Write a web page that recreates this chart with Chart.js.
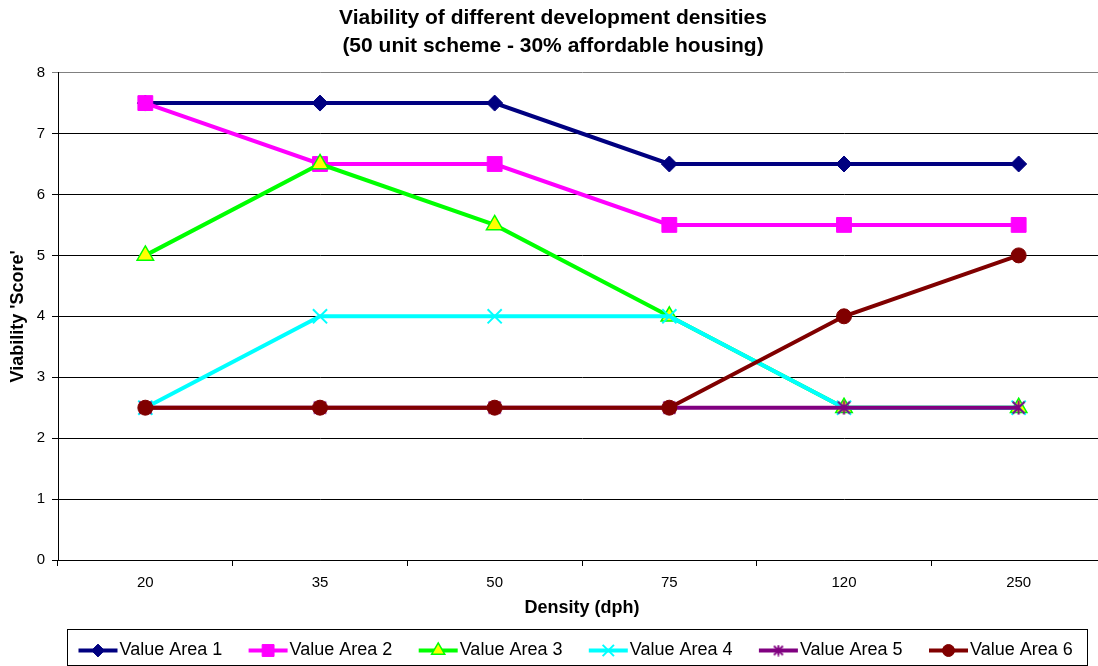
<!DOCTYPE html>
<html>
<head>
<meta charset="utf-8">
<title>Viability of different development densities</title>
<script src="https://cdn.jsdelivr.net/npm/chart.js@4/dist/chart.umd.min.js"></script>
<style>
  html, body { margin: 0; padding: 0; background: #ffffff; overflow: hidden; }
  #chart { display: block; }
</style>
</head>
<body>
<canvas id="chart" width="1106" height="666"></canvas>
<script>
// Density categories (dwellings per hectare)
const densities = ['20', '35', '50', '75', '120', '250'];

// Viability score for each value area
const valueArea1 = [7.5, 7.5, 7.5, 6.5, 6.5, 6.5];
const valueArea2 = [7.5, 6.5, 6.5, 5.5, 5.5, 5.5];
const valueArea3 = [5, 6.5, 5.5, 4, 2.5, 2.5];
const valueArea4 = [2.5, 4, 4, 4, 2.5, 2.5];
const valueArea5 = [2.5, 2.5, 2.5, 2.5, 2.5, 2.5];
const valueArea6 = [2.5, 2.5, 2.5, 2.5, 4, 5];

const seriesNames = ['Value Area 1', 'Value Area 2', 'Value Area 3', 'Value Area 4', 'Value Area 5', 'Value Area 6'];
const seriesValues = [valueArea1, valueArea2, valueArea3, valueArea4, valueArea5, valueArea6];

// Y axis range
const yMin = 0;
const yMax = 8;
const yStep = 1;

// Line and marker styling per series
const lineColors = ['#000080', '#FF00FF', '#00FF00', '#00FFFF', '#800080', '#800000'];
const markerFill = ['#000080', '#FF00FF', '#FFFF00', '#00FFFF', '#800080', '#800000'];
const markerRadius = [8, 10.5, 9.5, 10, 8, 7.5];
const markerBorder = [1, 1, 1.5, 2, 2, 1];

// Asterisk marker: an X crossed by a vertical stroke
function makeAsterisk(size, color, lw) {
  const c = document.createElement('canvas');
  c.width = size; c.height = size;
  const g = c.getContext('2d');
  g.strokeStyle = color;
  g.lineWidth = lw;
  const m = 1.5, s = size - 1.5;
  g.beginPath();
  g.moveTo(m, m); g.lineTo(s, s);
  g.moveTo(s, m); g.lineTo(m, s);
  g.moveTo(size / 2, m - 1); g.lineTo(size / 2, s + 1);
  g.stroke();
  return c;
}

const asteriskBig = makeAsterisk(15, '#800080', 2);
const asteriskSmall = makeAsterisk(12, '#800080', 1.8);

const markerShape = ['rectRot', 'rect', 'triangle', 'crossRot', asteriskBig, 'circle'];
const legendShape = ['rectRot', 'rect', 'triangle', 'crossRot', asteriskSmall, 'circle'];

const FONT = "'Liberation Sans', Arial, Helvetica, sans-serif";

const datasets = seriesNames.map((name, i) => ({
  label: name,
  data: seriesValues[i],
  borderColor: lineColors[i],
  backgroundColor: markerFill[i],
  borderWidth: 4,
  tension: 0,
  pointStyle: markerShape[i],
  pointRadius: markerRadius[i],
  pointHoverRadius: markerRadius[i],
  pointBackgroundColor: markerFill[i],
  pointBorderColor: lineColors[i],
  pointBorderWidth: markerBorder[i],
  // later series are painted over earlier ones
  order: seriesNames.length - 1 - i
}));

// Boxed legend below the axis title: line sample with marker, then the name
const boxedLegend = {
  id: 'boxedLegend',
  afterDraw(chart) {
    const ctx = chart.ctx;
    ctx.save();
    ctx.strokeStyle = '#000000';
    ctx.lineWidth = 1;
    ctx.strokeRect(67.5, 629.5, 1020, 36);
    const cy = 650.5;
    seriesNames.forEach((name, i) => {
      const tx = 119.5 + i * 170.1;
      ctx.strokeStyle = lineColors[i];
      ctx.lineWidth = 4;
      ctx.beginPath();
      ctx.moveTo(tx - 41, cy);
      ctx.lineTo(tx - 2, cy);
      ctx.stroke();
      ctx.fillStyle = markerFill[i];
      ctx.strokeStyle = lineColors[i];
      ctx.lineWidth = markerBorder[i];
      Chart.helpers.drawPoint(ctx, {
        pointStyle: legendShape[i],
        rotation: 0,
        radius: markerRadius[i] * 0.8,
        borderWidth: markerBorder[i]
      }, tx - 21.5, cy);
      ctx.font = '18px ' + FONT;
      ctx.textBaseline = 'middle';
      ctx.textAlign = 'left';
      ctx.fillStyle = '#000000';
      ctx.fillText(name, tx, cy);
    });
    ctx.restore();
  }
};

new Chart(document.getElementById('chart'), {
  type: 'line',
  data: { labels: densities, datasets },
  plugins: [boxedLegend],
  options: {
    responsive: false,
    animation: false,
    devicePixelRatio: 1,
    layout: { autoPadding: false, padding: { left: 0, right: 0, top: 0, bottom: 46 } },
    plugins: {
      legend: { display: false },
      tooltip: { enabled: false },
      title: {
        display: true,
        text: ['Viability of different development densities', '(50 unit scheme - 30% affordable housing)'],
        color: '#000000',
        font: { family: FONT, size: 21, weight: 'bold', lineHeight: 1.3 },
        padding: { top: 5, bottom: 13 }
      }
    },
    scales: {
      x: {
        type: 'category',
        offset: true,
        grid: {
          offset: true,
          drawOnChartArea: false,
          drawTicks: true,
          tickLength: 6,
          color: '#000000'
        },
        border: { color: '#000000', width: 1 },
        ticks: { color: '#000000', font: { family: FONT, size: 15 }, padding: 8, maxRotation: 0 },
        title: {
          display: true,
          text: 'Density (dph)',
          color: '#000000',
          font: { family: FONT, size: 18, weight: 'bold' },
          padding: { top: 4, bottom: 1 }
        },
        afterFit(scale) { scale.height = 60; }
      },
      y: {
        min: yMin,
        max: yMax,
        ticks: { stepSize: yStep, color: '#000000', font: { family: FONT, size: 15 }, padding: 7 },
        grid: {
          color: ctx => (ctx.tick && ctx.tick.value === yMax) ? '#808080' : '#000000',
          lineWidth: 1,
          drawTicks: true,
          tickLength: 6
        },
        border: { color: '#000000', width: 1 },
        title: {
          display: true,
          text: "Viability 'Score'",
          color: '#000000',
          font: { family: FONT, size: 18, weight: 'bold' },
          padding: { top: 7, bottom: 0 }
        },
        afterFit(scale) { scale.width = 58; }
      }
    }
  }
});
</script>
</body>
</html>
